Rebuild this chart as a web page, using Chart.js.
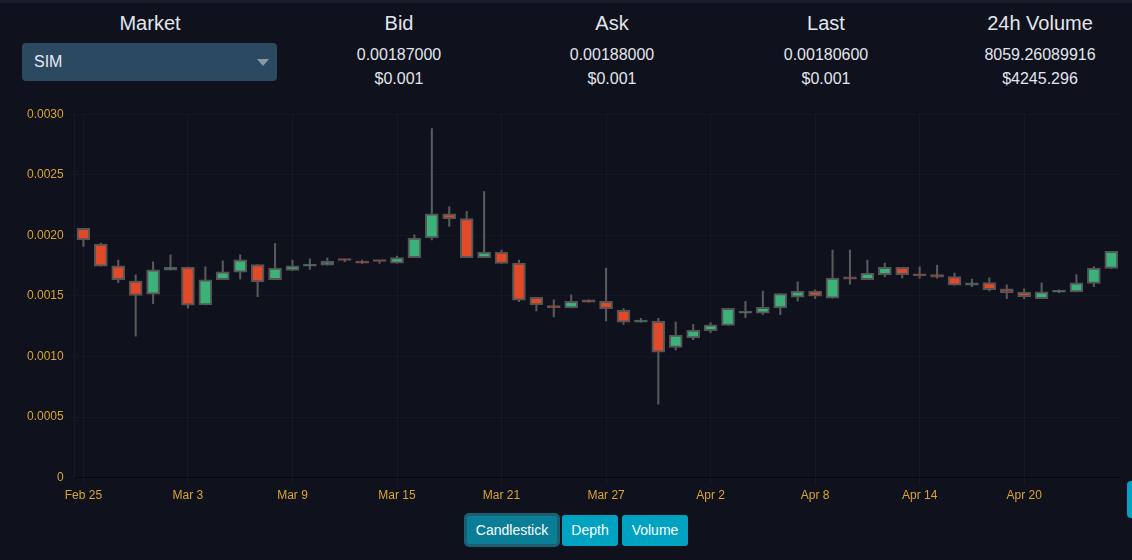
<!DOCTYPE html>
<html>
<head>
<meta charset="utf-8">
<script src="https://cdn.jsdelivr.net/npm/chart.js@4.4.0/dist/chart.umd.min.js"></script>
<style>
  body { margin: 0; background: #0f111d; font-family: "Liberation Sans", Arial, sans-serif; color: #e1e5ec; width: 1132px; height: 560px; overflow: hidden; position: relative; }
  .topbar { position: absolute; left: 0; top: 0; width: 1132px; height: 3px; background: #1b1e2a; }
  .cell { position: absolute; width: 220px; text-align: center; line-height: 24px; }
  .title { top: 11px; font-size: 20px; }
  .val1 { top: 43px; font-size: 16px; }
  .val2 { top: 67px; font-size: 16px; }
  .select { position: absolute; left: 22px; top: 43px; width: 255px; height: 38px; background: #2b4a61; border-radius: 4px; }
  .select span { position: absolute; left: 12px; top: 0; line-height: 38px; font-size: 16px; color: #e4e9f0; }
  .select i { position: absolute; left: 235px; top: 16px; width: 0; height: 0; border-left: 6px solid transparent; border-right: 6px solid transparent; border-top: 7px solid #8c99a5; }
  #wrap { position: absolute; left: 0; top: 104px; width: 1132px; height: 406px; }
  .btn { position: absolute; box-sizing: border-box; color: #fff; font-size: 14px; text-align: center; border-radius: 3px; background: #00a2c2; }
  .btn.active { background: #0b7e97; border: 3px solid #1a5e72; border-radius: 5px; }
  .edge { position: absolute; left: 1127px; top: 481px; width: 10px; height: 37px; background: #00a3c4; border-radius: 4px; }
</style>
</head>
<body>
<div class="topbar"></div>

<div class="cell title" style="left:40px">Market</div>
<div class="select"><span>SIM</span><i></i></div>

<div class="cell title" style="left:289px">Bid</div>
<div class="cell val1" style="left:289px">0.00187000</div>
<div class="cell val2" style="left:289px">$0.001</div>

<div class="cell title" style="left:502px">Ask</div>
<div class="cell val1" style="left:502px">0.00188000</div>
<div class="cell val2" style="left:502px">$0.001</div>

<div class="cell title" style="left:716px">Last</div>
<div class="cell val1" style="left:716px">0.00180600</div>
<div class="cell val2" style="left:716px">$0.001</div>

<div class="cell title" style="left:930px">24h Volume</div>
<div class="cell val1" style="left:930px">8059.26089916</div>
<div class="cell val2" style="left:930px">$4245.296</div>

<div id="wrap"><canvas id="candles"></canvas></div>

<div class="btn active" style="left:464px; top:513px; width:96px; height:34px; line-height:28px;">Candlestick</div>
<div class="btn" style="left:562px; top:515px; width:56px; height:31px; line-height:31px;">Depth</div>
<div class="btn" style="left:622px; top:515px; width:66px; height:31px; line-height:31px;">Volume</div>
<div class="edge"></div>

<script>
const dates = ['Feb 25','Feb 26','Feb 27','Feb 28','Mar 1','Mar 2','Mar 3','Mar 4','Mar 5','Mar 6',
  'Mar 7','Mar 8','Mar 9','Mar 10','Mar 11','Mar 12','Mar 13','Mar 14','Mar 15','Mar 16',
  'Mar 17','Mar 18','Mar 19','Mar 20','Mar 21','Mar 22','Mar 23','Mar 24','Mar 25','Mar 26',
  'Mar 27','Mar 28','Mar 29','Mar 30','Mar 31','Apr 1','Apr 2','Apr 3','Apr 4','Apr 5',
  'Apr 6','Apr 7','Apr 8','Apr 9','Apr 10','Apr 11','Apr 12','Apr 13','Apr 14','Apr 15',
  'Apr 16','Apr 17','Apr 18','Apr 19','Apr 20','Apr 21','Apr 22','Apr 23','Apr 24','Apr 25'];

const opens = [0.002058,0.001928,0.001749,0.001622,0.001514,0.001713,0.001738,0.001425,0.001635,0.001696,
  0.001759,0.001635,0.001710,0.001746,0.001754,0.001798,0.001775,0.001787,0.001771,0.001815,
  0.001978,0.002177,0.002138,0.001815,0.001862,0.001771,0.001489,0.001420,0.001400,0.001467,
  0.001456,0.001381,0.001284,0.001290,0.001075,0.001154,0.001212,0.001257,0.001357,0.001357,
  0.001400,0.001489,0.001539,0.001481,0.001657,0.001635,0.001676,0.001735,0.001680,0.001676,
  0.001660,0.001589,0.001610,0.001558,0.001531,0.001478,0.001530,0.001533,0.001602,0.001726];

const highs = [0.002058,0.001937,0.001796,0.001674,0.001782,0.001840,0.001738,0.001740,0.001790,0.001840,
  0.001759,0.001931,0.001796,0.001807,0.001815,0.001801,0.001796,0.001787,0.001829,0.002005,
  0.002881,0.002237,0.002199,0.002362,0.001879,0.001796,0.001489,0.001467,0.001508,0.001467,
  0.001730,0.001395,0.001315,0.001315,0.001284,0.001265,0.001279,0.001398,0.001456,0.001539,
  0.001519,0.001616,0.001550,0.001879,0.001879,0.001796,0.001771,0.001735,0.001740,0.001754,
  0.001688,0.001638,0.001649,0.001591,0.001558,0.001608,0.001550,0.001676,0.001743,0.001867];

const lows = [0.001909,0.001746,0.001610,0.001168,0.001436,0.001713,0.001398,0.001425,0.001635,0.001638,
  0.001494,0.001635,0.001710,0.001718,0.001754,0.001782,0.001768,0.001768,0.001771,0.001815,
  0.001962,0.002074,0.001815,0.001815,0.001768,0.001453,0.001376,0.001326,0.001400,0.001448,
  0.001293,0.001265,0.001284,0.000607,0.001055,0.001138,0.001196,0.001257,0.001320,0.001348,
  0.001345,0.001456,0.001478,0.001481,0.001597,0.001635,0.001657,0.001649,0.001647,0.001647,
  0.001589,0.001577,0.001541,0.001478,0.001478,0.001478,0.001527,0.001533,0.001577,0.001726];

const closes = [0.001962,0.001746,0.001635,0.001503,0.001715,0.001735,0.001423,0.001633,0.001699,0.001798,
  0.001616,0.001730,0.001749,0.001763,0.001787,0.001792,0.001771,0.001784,0.001817,0.001978,
  0.002177,0.002136,0.001815,0.001862,0.001768,0.001464,0.001425,0.001400,0.001456,0.001448,
  0.001395,0.001284,0.001301,0.001036,0.001177,0.001218,0.001262,0.001398,0.001373,0.001406,
  0.001519,0.001539,0.001497,0.001647,0.001638,0.001688,0.001735,0.001676,0.001666,0.001655,
  0.001589,0.001608,0.001552,0.001525,0.001494,0.001533,0.001536,0.001608,0.001730,0.001867];

const upColor = '#3cb27a';
const downColor = '#e04a28';
const tickColor = '#d9a431';

const bodies = opens.map((o, i) => [o, closes[i]]);
const wicks = lows.map((l, i) => [l, highs[i]]);
const bodyColors = opens.map((o, i) => closes[i] >= o ? upColor : downColor);

new Chart(document.getElementById('candles'), {
  type: 'bar',
  data: {
    labels: dates,
    datasets: [{
      label: 'body',
      data: bodies,
      backgroundColor: bodyColors,
      borderColor: '#555555',
      borderWidth: 2,
      borderSkipped: false,
      barThickness: 13,
      minBarLength: 2
    }, {
      label: 'wick',
      data: wicks,
      backgroundColor: '#5a5a5a',
      borderWidth: 0,
      barThickness: 1.4
    }]
  },
  options: {
    responsive: true,
    maintainAspectRatio: false,
    animation: false,
    grouped: false,
    layout: { padding: { left: 24, right: 12, top: 10, bottom: 4 } },
    plugins: {
      legend: { display: false },
      tooltip: { enabled: false }
    },
    scales: {
      x: {
        offset: true,
        grid: { offset: false, color: 'rgba(255,255,255,0.03)' },
        border: { color: '#07080d' },
        ticks: {
          autoSkip: false,
          maxRotation: 0,
          color: tickColor,
          font: { family: 'Liberation Sans', size: 12 },
          callback: (v, i) => i % 6 === 0 ? dates[i] : null
        }
      },
      y: {
        min: 0,
        max: 0.003,
        grid: { color: 'rgba(255,255,255,0.022)' },
        border: { color: 'rgba(255,255,255,0.04)' },
        ticks: {
          stepSize: 0.0005,
          color: tickColor,
          font: { family: 'Liberation Sans', size: 12 },
          callback: v => v === 0 ? '0' : v.toFixed(4)
        }
      }
    }
  }
});
</script>
</body>
</html>
